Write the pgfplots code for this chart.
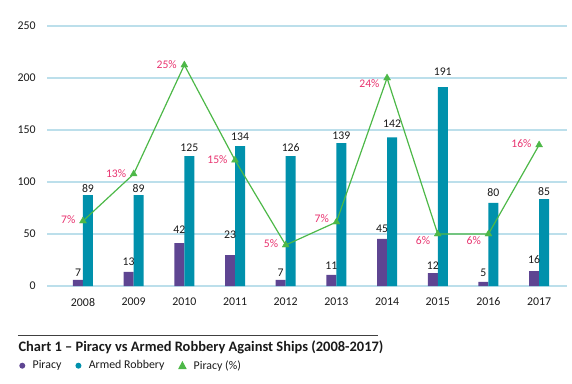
\documentclass[border=0pt]{standalone}
\usepackage{fontspec}
\setmainfont{Carlito}
\usepackage{pgfplots}
\pgfplotsset{compat=1.18}
\usepackage{pgfplotstable}
\definecolor{pir}{HTML}{5E4592}
\definecolor{arm}{HTML}{0091AC}
\definecolor{grn}{HTML}{4DB848}
\definecolor{pinklab}{HTML}{E8336F}
\definecolor{gridc}{HTML}{BCDFEB}
\definecolor{txt}{HTML}{1A1A1A}

\pgfplotstableread{
x pir ply plab arm aly alab
0 6    12.5 7  87.5  93.3  89
1 13.5 23.1 13 87.5  93.3  89
2 41.3 53.8 42 125   132.7 125
3 29.8 49.0 23 134.6 143.3 134
4 6    12.5 7  125   132.7 126
5 10.6 19.2 11 137.5 144.2 139
6 45.2 54.8 45 143   155.8 142
7 12.5 19.2 12 191.3 205.8 191
8 4    12.5 5  80    89.4  80
9 14.4 25.0 16 83.6  90.4  85
}\bars

\pgfplotstableread{
x v ly pct
0 62.5  63.5  7
1 107.7 108.4 13
2 212.5 212.5 25
3 121   121.2 15
4 39.4  40.4  5
5 61.5  64.4  7
6 200   194.2 24
7 50    43.3  6
8 50    43.3  6
9 135.6 136.5 16
}\line

\begin{document}
\begin{tikzpicture}
\path[use as bounding box] (0,0) rectangle (429pt,287.25pt);
\begin{axis}[
  at={(35.25pt,72.75pt)}, anchor=south west,
  scale only axis, width=390pt, height=195pt,
  xmin=-0.71, xmax=9.55, ymin=0, ymax=250,
  clip=false,
  axis line style={draw=none},
  tick style={draw=none},
  ymajorgrids, major grid style={gridc, line width=0.9pt},
  ytick={0,50,100,150,200,250},
  yticklabels={0,50,100,150,200,250},
  xtick={0,...,9},
  xticklabels={2008,2009,2010,2011,2012,2013,2014,2015,2016,2017},
  /pgf/number format/assume math mode=true,
  font=\fontsize{8.7}{10}\selectfont,
  ticklabel style={font=\fontsize{8.9}{10}\selectfont, text=txt, inner sep=0pt},
  yticklabel style={anchor=east, xshift=-8.25pt},
  xticklabel style={anchor=center, yshift=-12pt},
  legend columns=-1,
  legend style={draw=none, fill=none, inner sep=0pt, outer sep=0pt,
    at={(axis description cs:-0.0533,-0.3065)}, anchor=west,
    font=\fontsize{8.9}{10}\selectfont, text=txt,
    /tikz/every odd column/.append style={column sep=3.5pt},
    /tikz/every even column/.append style={column sep=8.5pt},
    nodes={inner xsep=2pt}},
]
\addplot[ybar, bar width=7.5pt, bar shift=-3.75pt, fill=pir, draw=none,
  legend image code/.code={\fill[pir] (2.25pt,0) circle (2.25pt);}]
  table[x=x,y=pir]{\bars};
\addlegendentry{Piracy}
\addplot[ybar, bar width=7.5pt, bar shift=3.75pt, fill=arm, draw=none,
  legend image code/.code={\fill[arm] (2.25pt,0) circle (2.25pt);}]
  table[x=x,y=arm]{\bars};
\addlegendentry{Armed Robbery}
\addplot[grn, line width=0.9pt, mark=triangle*, mark size=3pt,
  mark options={fill=grn, draw=grn, line width=0.3pt},
  legend image code/.code={\fill[grn] (0,-2.1pt) -- (5pt,-2.1pt) -- (2.5pt,2.6pt) -- cycle;}]
  table[x=x,y=v]{\line};
\addlegendentry{Piracy (\%)}
% labels
\addplot[forget plot, only marks, mark=*, mark size=0pt, mark options={draw=none,fill=none},
  nodes near coords, point meta=explicit symbolic,
  nodes near coords style={anchor=center, inner sep=0pt, xshift=-3.75pt, text=txt,
    font=\fontsize{8.8}{10}\selectfont}]
  table[x=x,y=ply,meta=plab]{\bars};
\addplot[forget plot, only marks, mark=*, mark size=0pt, mark options={draw=none,fill=none},
  nodes near coords, point meta=explicit symbolic,
  nodes near coords style={anchor=center, inner sep=0pt, xshift=3.75pt, text=txt,
    font=\fontsize{8.8}{10}\selectfont}]
  table[x=x,y=aly,meta=alab]{\bars};
\addplot[forget plot, only marks, mark=*, mark size=0pt, mark options={draw=none,fill=none},
  nodes near coords={\pgfplotspointmeta\%}, point meta=explicit symbolic,
  nodes near coords style={anchor=east, inner sep=0pt, xshift=-5.5pt, text=pinklab,
    font=\fontsize{8.7}{10}\selectfont}]
  table[x=x,y=ly,meta=pct]{\line};
\draw[black!75, line width=0.6pt] (axis description cs:-0.0558,-0.1885) -- (axis description cs:0.6365,-0.1885);
\node[anchor=base west, inner sep=0pt, text=txt, font=\fontsize{10.85}{12}\selectfont\bfseries]
  at (axis description cs:-0.0552,-0.2538) {Chart 1 – Piracy vs Armed Robbery Against Ships (2008-2017)};
\end{axis}
\end{tikzpicture}
\end{document}
